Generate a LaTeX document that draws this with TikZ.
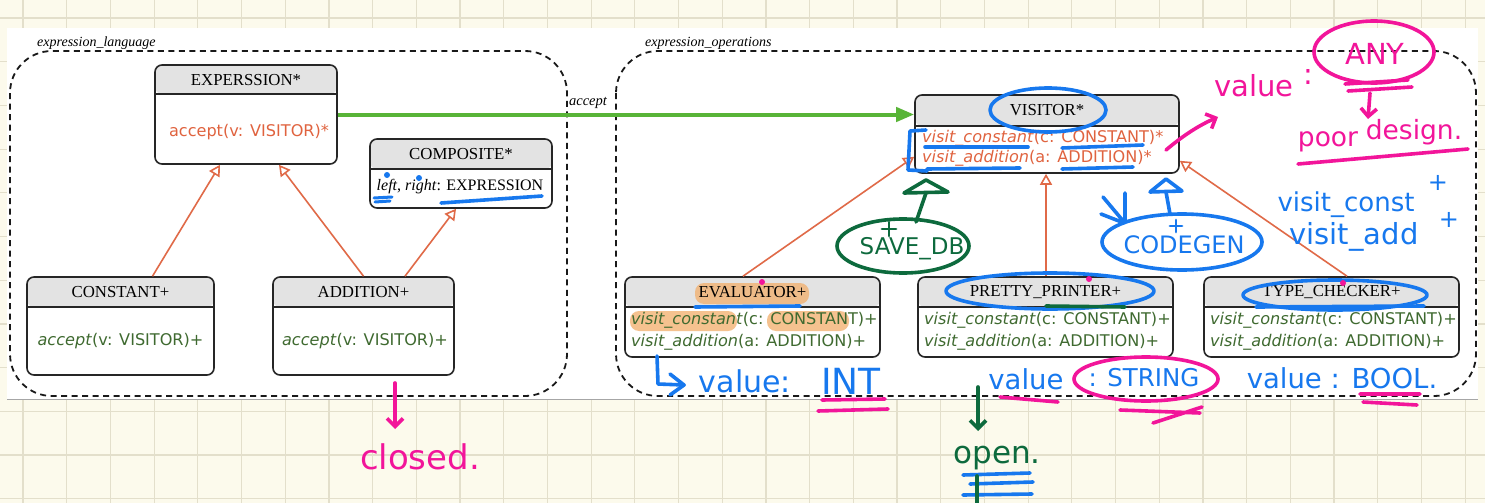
\documentclass[tikz,border=0pt]{standalone}
\usepackage{fontspec}
\setmainfont{Liberation Serif}
\newfontfamily\umlsans{DejaVu Sans}
\newfontfamily\handfont{DejaVu Sans}
\usetikzlibrary{arrows.meta}

\definecolor{paper}{HTML}{FCFAEC}
\definecolor{gridc}{HTML}{E3DFCB}
\definecolor{hdrgray}{HTML}{E3E3E3}
\definecolor{abstractop}{HTML}{E0633F}
\definecolor{concreteop}{HTML}{3F6A30}
\definecolor{inhline}{HTML}{E06A48}
\definecolor{accgreen}{HTML}{58B437}
\definecolor{penblue}{HTML}{1778EE}
\definecolor{penpink}{HTML}{F2159A}
\definecolor{pengreen}{HTML}{0D6A3D}
\definecolor{marker}{HTML}{F2AE6A}

\begin{document}
\begin{tikzpicture}[x=1pt,y=-1pt,
  gridline/.style={draw=gridc, line width=1.2pt},
  pkg/.style={draw=black!90, line width=1.8pt, dash pattern=on 6pt off 4.5pt, rounded corners=42pt},
  pkglabel/.style={font=\itshape\fontsize{14}{16}\selectfont, anchor=base west, inner sep=0pt},
  classbox/.style={draw=black!85, line width=1.6pt, rounded corners=7pt, fill=white, inner sep=0pt,
    path picture={
      \fill[hdrgray] (path picture bounding box.north west) rectangle ([yshift=-#1pt]path picture bounding box.north east);
      \draw[black!85, line width=1.6pt] ([yshift=-#1pt]path picture bounding box.north west) -- ([yshift=-#1pt]path picture bounding box.north east);
    }},
  hdrtext/.style={font=\fontsize{16.8}{18}\selectfont, inner sep=0pt},
  attrtext/.style={font=\fontsize{16}{18}\selectfont, inner sep=0pt},
  optext/.style={font=\umlsans\fontsize{16.1}{18}\selectfont, inner sep=0pt},
  inherit/.style={draw=inhline, line width=1.6pt, -{Triangle[open, length=11pt, width=12pt, fill=white]}},
  accarrow/.style={draw=accgreen, line width=4pt, -{Triangle[length=18pt, width=14pt]}},
  acclabel/.style={font=\itshape\fontsize{14.5}{16}\selectfont, inner sep=0pt},
  pen/.style={line width=3.6pt, line cap=round, line join=round},
  handtxt/.style={font=\handfont\fontsize{#1}{#1}\selectfont, inner sep=0pt},
  penarrow/.style={-{Straight Barb[length=8pt, width=16pt]}},
  highlight/.style={fill=marker, opacity=0.75, rounded corners=9pt}
]
\useasboundingbox (0,0) rectangle (1485,503);

% grid paper
\fill[paper] (0,0) rectangle (1485,503);
\foreach \i in {0,...,33} \draw[gridline] ({23+43.7*\i},0) -- ({23+43.7*\i},503);
\foreach \j in {0,...,11} \draw[gridline] (0,{18+43.7*\j}) -- (1485,{18+43.7*\j});

% pasted diagram sheet
\fill[white] (7,28) rectangle (1478,399);
\draw[black!35, line width=0.8pt] (7,399) -- (1478,399);

% packages
\draw[pkg] (10,51) rectangle (567,396);
\draw[pkg] (616,51) rectangle (1476,396);
\node[pkglabel] (pkgL) at (37,47) {expression\_language};
\node[pkglabel] (pkgR) at (645,47) {expression\_operations};

% class frames
\node[classbox=29, minimum width=182pt, minimum height=99pt] (expr) at (246,114.5) {};
\node[classbox=30, minimum width=182pt, minimum height=69pt] (comp) at (461,173.5) {};
\node[classbox=30, minimum width=187pt, minimum height=98pt] (const) at (120.5,326) {};
\node[classbox=30, minimum width=181pt, minimum height=98pt] (add) at (363.5,326) {};
\node[classbox=31, minimum width=264pt, minimum height=78pt] (visitor) at (1047,134) {};
\node[classbox=30, minimum width=255pt, minimum height=80pt] (eval) at (752.5,317) {};
\node[classbox=30, minimum width=255pt, minimum height=80pt] (pretty) at (1045.5,317) {};
\node[classbox=30, minimum width=255pt, minimum height=80pt] (type) at (1331.5,317) {};

% marker strokes under the evaluator texts
\fill[highlight] (695,283) rectangle (809,304);
\fill[highlight] (630,311) rectangle (737,331);
\fill[highlight] (767,311) rectangle (849,331);

% class texts: expression_language
\node[hdrtext] (exprT) at (246,80) {EXPERSSION*};
\node[optext, text=abstractop] (exprOp) at (249,132) {accept(v: VISITOR)*};
\node[hdrtext] (compT) at (461,154) {COMPOSITE*};
\node[attrtext] (compA) at (460,187) {\textit{left}, \textit{right}: EXPRESSION};
\node[hdrtext] (constT) at (120.5,292) {CONSTANT+};
\node[optext, text=concreteop] (constOp) at (120.5,341) {\textit{accept}(v: VISITOR)+};
\node[hdrtext] (addT) at (363.5,292) {ADDITION+};
\node[optext, text=concreteop] (addOp) at (365,341) {\textit{accept}(v: VISITOR)+};

% class texts: expression_operations
\node[hdrtext] (visT) at (1047,110) {VISITOR*};
\node[optext, text=abstractop, anchor=west] (visOpA) at (922,138) {\textit{visit\_constant}(c: CONSTANT)*};
\node[optext, text=abstractop, anchor=west] (visOpB) at (922,158) {\textit{visit\_addition}(a: ADDITION)*};

\node[hdrtext] (evalT) at (752.5,292) {EVALUATOR+};
\node[optext, text=concreteop, anchor=west] (evalOpA) at (631,320) {\textit{visit\_constant}(c: CONSTANT)+};
\node[optext, text=concreteop, anchor=west] (evalOpB) at (631,342) {\textit{visit\_addition}(a: ADDITION)+};

\node[hdrtext] (prettyT) at (1045.5,292) {PRETTY\_PRINTER+};
\node[optext, text=concreteop, anchor=west] (prettyOpA) at (924,320) {\textit{visit\_constant}(c: CONSTANT)+};
\node[optext, text=concreteop, anchor=west] (prettyOpB) at (924,342) {\textit{visit\_addition}(a: ADDITION)+};

\node[hdrtext] (typeT) at (1331.5,292) {TYPE\_CHECKER+};
\node[optext, text=concreteop, anchor=west] (typeOpA) at (1210,320) {\textit{visit\_constant}(c: CONSTANT)+};
\node[optext, text=concreteop, anchor=west] (typeOpB) at (1210,342) {\textit{visit\_addition}(a: ADDITION)+};

% inheritance
\draw[inherit] ([xshift=32pt]const.north) -- ([xshift=-26pt]expr.south);
\draw[inherit] (add.north) -- ([xshift=33pt]expr.south);
\draw[inherit] ([xshift=41.5pt]add.north) -- ([xshift=-5pt]comp.south);
\draw[inherit] ([xshift=-9.5pt]eval.north) -- ([yshift=17pt]visitor.south west);
\draw[inherit] ([xshift=0.5pt]pretty.north) -- ([xshift=0.5pt]pretty.north |- visitor.south);
\draw[inherit] ([xshift=15.5pt]type.north) -- ([yshift=13pt]visitor.south east);

% client-supplier
\draw[accarrow] (expr.east) -- (expr.east -| visitor.west);
\node[acclabel] (accL) at (588,103) {accept};

% ---- pen notes: blue ----
\begin{scope}[penblue]
  % composite attribute
  \draw[pen, line width=3pt] (374,198) -- (392,197);
  \draw[pen, line width=3pt] (375,202) -- (390,201);
  \draw[pen] (441,203) -- (542,196);
  \fill (387,175) circle (3pt);
  \fill (419,178) circle (3pt);
  % visitor
  \draw[pen] (1048,110) ellipse [x radius=58, y radius=22];
  \draw[pen] (926,130) -- (910,131) -- (908,170) -- (927,171);
  \draw[pen] (925,147) -- (1028,147);
  \draw[pen] (1062,148) -- (1143,145);
  \draw[pen] (927,169) -- (1020,168);
  \draw[pen] (1062,169) -- (1133,167);
  % codegen
  \draw[pen] (1182,242) ellipse [x radius=80, y radius=28];
  \node[handtxt=24, text=penblue] (codegen) at (1184,245) {CODEGEN};
  \draw[pen, line width=2.8pt] (1170,226) -- (1182,226) (1176,220) -- (1176,232);
  \draw[pen] (1170,214) -- (1166,192);
  \draw[pen] (1150,192) -- (1166,179) -- (1182,191) -- cycle;
  \draw[pen] (1125,193) -- (1125,221) (1103,197) -- (1124,222) (1101,214) -- (1124,223);
  % new operations
  \node[handtxt=26, text=penblue] (newConst) at (1346,205) {visit\_const};
  \node[handtxt=24, text=penblue] (newConstPlus) at (1438,183) {+};
  \node[handtxt=29, text=penblue] (newAdd) at (1354,237) {visit\_add};
  \node[handtxt=24, text=penblue] (newAddPlus) at (1449,220) {+};
  % concrete visitors
  \draw[pen] (695,307) -- (800,306);
  \draw[pen] (1050,291) ellipse [x radius=104, y radius=18];
  \draw[pen] (1335,295) ellipse [x radius=92, y radius=15];
  \draw[pen] (1256,307) -- (1424,306);
  \draw[pen] (657,356) -- (658,384) -- (684,385);
  \draw[pen] (670,374) -- (684,385) -- (670,395);
  \node[handtxt=30, text=penblue] (valInt) at (745,381) {value:};
  \node[handtxt=36, text=penblue] (tyInt) at (851,381) {INT};
  \node[handtxt=27.5, text=penblue] (valStr) at (1026,379) {value};
  \node[handtxt=24.5, text=penblue] (tyStr) at (1144,378) {: STRING};
  \node[handtxt=27.5, text=penblue] (valBool) at (1342,378) {value : BOOL.};
  \draw[pen] (963,475) -- (1030,473) (970,484) -- (1033,482) (963,495) -- (1032,494);
\end{scope}

% ---- pen notes: green ----
\begin{scope}[pengreen]
  \draw[pen] (903,246) ellipse [x radius=66, y radius=27];
  \node[handtxt=23, text=pengreen] (savedb) at (912,249) {SAVE\_DB};
  \draw[pen, line width=2.8pt] (882,229) -- (896,229) (889,222) -- (889,236);
  \draw[pen] (916,222) -- (926,193);
  \draw[pen] (904,193) -- (926,180) -- (948,192) -- cycle;
  \draw[pen] (1046,306) -- (1125,307);
  \draw[pen, penarrow] (978,387) -- (978,431);
  \node[handtxt=31, text=pengreen] (openLbl) at (997,458) {open.};
  \draw[pen] (977,476) -- (977,503);
\end{scope}

% ---- pen notes: pink ----
\begin{scope}[penpink]
  \fill (762,282) circle (3pt);
  \fill (1089,279) circle (3pt);
  \fill (1343,283) circle (3pt);
  \draw[pen, penarrow] (1166,150) .. controls (1185,134) and (1200,125) .. (1218,117);
  \node[handtxt=29, text=penpink] (anyVal) at (1254,86) {value};
  \node[handtxt=29, text=penpink] (anyColon) at (1308,77) {:};
  \node[handtxt=29, text=penpink] (anyTy) at (1375,54) {ANY};
  \draw[pen] (1374,52) ellipse [x radius=60, y radius=31];
  \draw[pen] (1345,84) -- (1408,80) (1348,91) -- (1412,87);
  \draw[pen, penarrow] (1370,93) -- (1368,119);
  \node[handtxt=26.5, text=penpink] (poorA) at (1328,142) {poor};
  \node[handtxt=26.5, text=penpink] (poorB) at (1414,132) {design.};
  \draw[pen] (1298,164) -- (1468,149);
  \draw[pen] (822,400) -- (885,399) (818,411) -- (888,409);
  \draw[pen] (1000,397) -- (1058,402);
  \draw[pen] (1146,379) ellipse [x radius=72, y radius=22];
  \draw[pen] (1120,410) -- (1200,413) (1153,423) -- (1202,407);
  \draw[pen] (1360,394) -- (1420,394) (1363,402) -- (1417,405);
  \draw[pen, penarrow] (395,383) -- (395,429);
  \node[handtxt=34, text=penpink] (closedLbl) at (420,457) {closed.};
\end{scope}
\end{tikzpicture}
\end{document}
